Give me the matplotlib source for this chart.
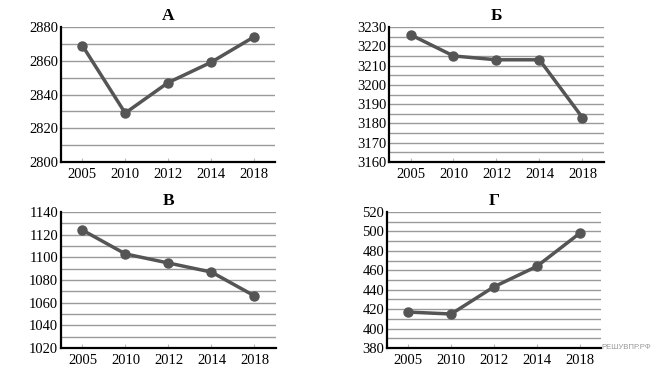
import matplotlib
matplotlib.use("Agg")
import matplotlib.pyplot as plt
import numpy as np

years = ["2005", "2010", "2012", "2014", "2018"]

titles = ["А", "Б", "В", "Г"]
values_a = [2869, 2829, 2847, 2859, 2874]
values_b = [3226, 3215, 3213, 3213, 3183]
values_v = [1124, 1103, 1095, 1087, 1066]
values_g = [417, 415, 443, 464, 498]

# (ymin, ymax, grid step, label step)
limits_a = (2800, 2880, 10, 20)
limits_b = (3160, 3230, 5, 10)
limits_v = (1020, 1140, 10, 20)
limits_g = (380, 520, 10, 20)

plt.rcParams["font.family"] = ["Liberation Serif", "DejaVu Serif"]

fig = plt.figure(figsize=(6.55, 3.74), dpi=100)

boxes = [
    [0.0931, 0.5668, 0.3267, 0.3610],
    [0.5939, 0.5668, 0.3282, 0.3610],
    [0.0931, 0.0695, 0.3282, 0.3636],
    [0.5908, 0.0695, 0.3267, 0.3636],
]
series = [values_a, values_b, values_v, values_g]
limits = [limits_a, limits_b, limits_v, limits_g]

line_color = "#555555"
x = np.arange(len(years))

for box, vals, lim, title in zip(boxes, series, limits, titles):
    ax = fig.add_axes(box)
    ymin, ymax, gstep, lstep = lim
    for g in np.arange(ymin + gstep, ymax + gstep / 2, gstep):
        ax.axhline(g, color="#9a9a9a", linewidth=1.0, zorder=1)
    ax.plot(x, vals, color=line_color, linewidth=2.5, marker="o",
            markersize=6.5, zorder=3)
    ax.set_xlim(-0.5, 4.5)
    ax.set_ylim(ymin, ymax)
    ax.set_xticks(x)
    ax.set_xticklabels(years, fontsize=10.5)
    ax.set_yticks(np.arange(ymin, ymax + 1, lstep))
    ax.tick_params(axis="y", length=0, labelsize=10.5, pad=2)
    ax.tick_params(axis="x", direction="in", length=3, color="#bbbbbb",
                   labelsize=10.5, pad=4)
    for s in ["top", "right"]:
        ax.spines[s].set_visible(False)
    for s in ["left", "bottom"]:
        ax.spines[s].set_linewidth(1.6)
        ax.spines[s].set_color("black")
    ax.set_title(title, fontsize=12.5, fontweight="bold", pad=5)

fig.text(0.994, 0.072, "РЕШУВПР.РФ", fontsize=5.6, color="#999999",
         family=["Liberation Sans", "DejaVu Sans"], va="center", ha="right")

fig.savefig("out.png", dpi=100)
